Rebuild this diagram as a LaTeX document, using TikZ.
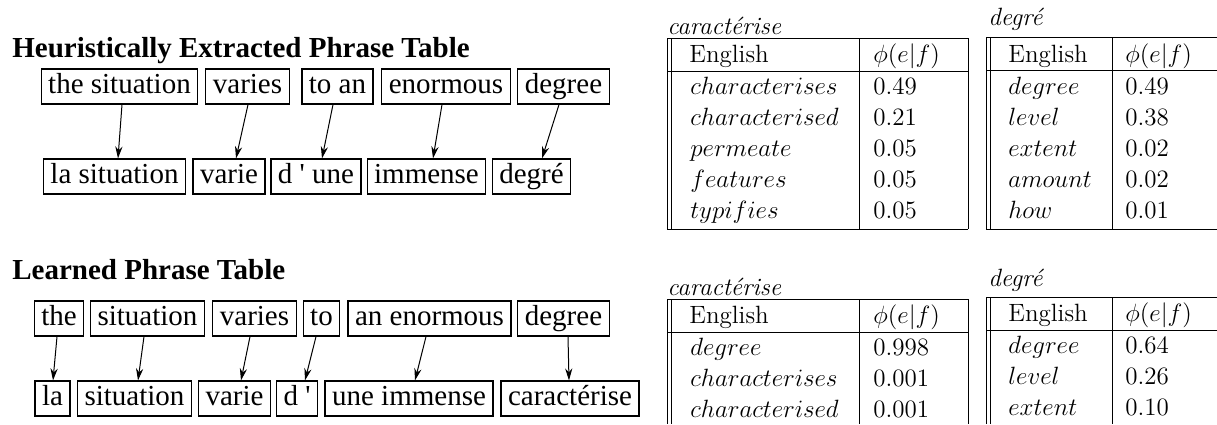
\RequirePackage{fix-cm}
\documentclass[tikz,border=0pt]{standalone}
\usepackage{fontspec}
\newfontfamily\tnr{Liberation Serif}
\usetikzlibrary{arrows.meta}
\begin{document}
\begin{tikzpicture}[x=0.5pt, y=-0.5pt,
  wbox/.style={draw, line width=0.6pt, font=\tnr\fontsize{14.5}{17}\selectfont, inner xsep=3.5pt, inner ysep=0pt, minimum height=17.5pt, text height=10pt, text depth=3.2pt},
  ttl/.style={font=\tnr\bfseries\fontsize{14.5}{17}\selectfont, anchor=base west, inner sep=0pt},
  arr/.style={-{Stealth[length=6pt,width=3.6pt]}, line width=0.5pt},
  tcell/.style={anchor=base west, inner sep=0pt, font=\fontsize{12.5}{15}\selectfont},
  tline/.style={line width=0.5pt}]
\useasboundingbox (0,0) rectangle (1217,424);

% ---------- Heuristic part ----------
\node[ttl] (t1) at (12,57) {Heuristically Extracted Phrase Table};
\node[wbox] (ts) at (119.5,86.5) {the situation};
\node[wbox] (va) at (247.5,86.5) {varies};
\node[wbox] (ta) at (337.5,86.5) {to an};
\node[wbox] (en) at (446,86.5) {enormous};
\node[wbox] (dg) at (563.5,86.5) {degree};
\node[wbox] (ls) at (114.5,176.5) {la situation};
\node[wbox] (vr) at (229,176.5) {varie};
\node[wbox] (du) at (316,176.5) {d ' une};
\node[wbox] (im) at (426.5,176.5) {immense};
\node[wbox] (de) at (531.5,176.5) {degré};
\draw[arr] ([xshift=1.25pt]ts.south) -- ([xshift=1.75pt]ls.north);
\draw[arr] ([xshift=0.25pt]va.south) -- ([xshift=3.5pt]vr.north);
\draw[arr] ([xshift=-2.25pt]ta.south) -- ([xshift=3pt]du.north);
\draw[arr] ([xshift=-2pt]en.south) -- ([xshift=3.25pt]im.north);
\draw[arr] ([xshift=-2.25pt]dg.south) -- ([xshift=5.25pt]de.north);

% ---------- Learned part ----------
\node[ttl] (t2) at (12,279) {Learned Phrase Table};
\node[wbox] (th) at (59,318.5) {the};
\node[wbox] (si) at (147.5,318.5) {situation};
\node[wbox] (vs) at (254.5,318.5) {varies};
\node[wbox] (to) at (321.5,318.5) {to};
\node[wbox] (ae) at (429.5,318.5) {an enormous};
\node[wbox] (dgb) at (563.5,318.5) {degree};
\node[wbox] (la) at (52.5,398.5) {la};
\node[wbox] (sib) at (134.5,398.5) {situation};
\node[wbox] (vrb) at (234.5,398.5) {varie};
\node[wbox] (dq) at (297,398.5) {d '};
\node[wbox] (ui) at (409,398.5) {une immense};
\node[wbox] (ca) at (570,398.5) {caractérise};
\draw[arr] ([xshift=-1pt]th.south) -- ([xshift=0.25pt]la.north);
\draw[arr] ([xshift=-1.75pt]si.south) -- ([xshift=1.75pt]sib.north);
\draw[arr] ([xshift=-2.25pt]vs.south) -- ([xshift=3.25pt]vrb.north);
\draw[arr] ([xshift=-2.75pt]to.south) -- ([xshift=4pt]dq.north);
\draw[arr] ([xshift=-1.75pt]ae.south) -- ([xshift=3pt]ui.north);
\draw[arr] ([xshift=2.25pt]dgb.south) -- ([xshift=-0.5pt]ca.north);

% ---------- Table A ----------
\node[tcell] (capA) at (667,34) {\textit{caractérise}};
\draw[tline] (667,38) -- (968,38);
\draw[tline] (667,71) -- (968,71);
\draw[tline] (667,229) -- (968,229);
\draw[tline] (667,38) -- (667,229);
\draw[tline] (671,38) -- (671,229);
\draw[tline] (859,38) -- (859,229);
\draw[tline] (968,38) -- (968,229);
\node[tcell] (hA1) at (689,62) {English};
\node[tcell] (hA2) at (873,62) {$\phi(e|f)$};
\node[tcell] (a1) at (690,94) {$characterises$};
\node[tcell] (a1p) at (873,94) {0.49};
\node[tcell] (a2) at (690,125) {$characterised$};
\node[tcell] (a2p) at (873,125) {0.21};
\node[tcell] (a3) at (690,156) {$permeate$};
\node[tcell] (a3p) at (873,156) {0.05};
\node[tcell] (a4) at (690,187) {$features$};
\node[tcell] (a4p) at (873,187) {0.05};
\node[tcell] (a5) at (690,218) {$typifies$};
\node[tcell] (a5p) at (873,218) {0.05};

% ---------- Table B ----------
\node[tcell] (capB) at (988,25) {\textit{degré}};
\draw[tline] (986,37) -- (1217,37);
\draw[tline] (986,70) -- (1217,70);
\draw[tline] (986,229) -- (1217,229);
\draw[tline] (986,37) -- (986,229);
\draw[tline] (990,37) -- (990,229);
\draw[tline] (1112,37) -- (1112,229);
\node[tcell] (hB1) at (1008,62) {English};
\node[tcell] (hB2) at (1125,62) {$\phi(e|f)$};
\node[tcell] (b1) at (1008,94) {$degree$};
\node[tcell] (b1p) at (1125,94) {0.49};
\node[tcell] (b2) at (1008,125) {$level$};
\node[tcell] (b2p) at (1125,125) {0.38};
\node[tcell] (b3) at (1008,156) {$extent$};
\node[tcell] (b3p) at (1125,156) {0.02};
\node[tcell] (b4) at (1008,187) {$amount$};
\node[tcell] (b4p) at (1125,187) {0.02};
\node[tcell] (b5) at (1008,218) {$how$};
\node[tcell] (b5p) at (1125,218) {0.01};

% ---------- Table C ----------
\node[tcell] (capC) at (667,295) {\textit{caractérise}};
\draw[tline] (667,299) -- (968,299);
\draw[tline] (667,332) -- (968,332);
\draw[tline] (667,299) -- (667,424);
\draw[tline] (671,299) -- (671,424);
\draw[tline] (859,299) -- (859,424);
\draw[tline] (968,299) -- (968,424);
\node[tcell] (hC1) at (689,323) {English};
\node[tcell] (hC2) at (873,323) {$\phi(e|f)$};
\node[tcell] (c1) at (690,355) {$degree$};
\node[tcell] (c1p) at (873,355) {0.998};
\node[tcell] (c2) at (690,386) {$characterises$};
\node[tcell] (c2p) at (873,386) {0.001};
\node[tcell] (c3) at (690,417) {$characterised$};
\node[tcell] (c3p) at (873,417) {0.001};

% ---------- Table D ----------
\node[tcell] (capD) at (988,286) {\textit{degré}};
\draw[tline] (986,297) -- (1217,297);
\draw[tline] (986,330) -- (1217,330);
\draw[tline] (986,297) -- (986,424);
\draw[tline] (990,297) -- (990,424);
\draw[tline] (1112,297) -- (1112,424);
\node[tcell] (hD1) at (1008,321) {English};
\node[tcell] (hD2) at (1125,321) {$\phi(e|f)$};
\node[tcell] (d1) at (1008,353) {$degree$};
\node[tcell] (d1p) at (1125,353) {0.64};
\node[tcell] (d2) at (1008,384) {$level$};
\node[tcell] (d2p) at (1125,384) {0.26};
\node[tcell] (d3) at (1008,415) {$extent$};
\node[tcell] (d3p) at (1125,415) {0.10};
\end{tikzpicture}
\end{document}
